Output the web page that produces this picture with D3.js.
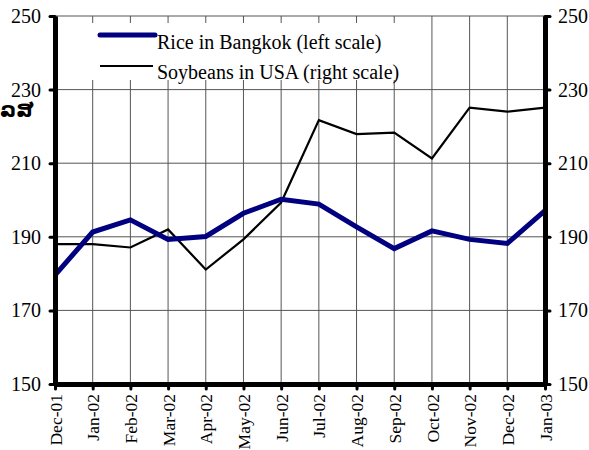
<!DOCTYPE html>
<html><head><meta charset="utf-8">
<script src="https://cdn.jsdelivr.net/npm/d3@7"></script>
<style>body{margin:0;background:#fff}svg{display:block}</style>
</head><body><svg id="c" width="589" height="450"></svg>
<script>
const months = ["Dec-01","Jan-02","Feb-02","Mar-02","Apr-02","May-02","Jun-02","Jul-02","Aug-02","Sep-02","Oct-02","Nov-02","Dec-02","Jan-03"];
const rice = [179.6,191.3,194.6,189.3,190.1,196.4,200.2,198.9,192.7,186.8,191.6,189.3,188.2,197.1];
const soybeans = [188.0,188.0,187.1,192.0,181.1,189.3,199.3,221.7,217.9,218.3,211.3,225.1,224.0,225.1];
const yTicks = [150,170,190,210,230,250];
const seriesNames = ["Rice in Bangkok (left scale)","Soybeans in USA (right scale)"];
const yLabel = "ລສ";
const SERIF = "'Liberation Serif','Times New Roman',serif";

const svg = d3.select("#c");
const L = 55, R = 545, T = 16, B = 384;
const x = d3.scalePoint().domain(months).range([L, R]);
const yL = d3.scaleLinear().domain([150,250]).range([B, T]);
const yR = d3.scaleLinear().domain([150,250]).range([B, T]);

// gridlines
const grid = svg.append("g");
grid.selectAll("line.h").data(yTicks.slice(1)).join("line")
  .attr("x1", L).attr("x2", R).attr("y1", d=>yL(d)).attr("y2", d=>yL(d))
  .attr("stroke", "#555").attr("stroke-width", 1);
grid.selectAll("line.v").data(months.slice(1, -1)).join("line")
  .attr("x1", d=>x(d)).attr("x2", d=>x(d)).attr("y1", T).attr("y2", B)
  .attr("stroke", "#555").attr("stroke-width", 1);

// legend background
svg.append("rect").attr("x", 88).attr("y", 23).attr("width", 318).attr("height", 57).attr("fill", "#fff");

// lines
const lineL = d3.line().x((d,i)=>x(months[i])).y(d=>yL(d));
const lineR = d3.line().x((d,i)=>x(months[i])).y(d=>yR(d));
svg.append("path").datum(soybeans).attr("d", lineR).attr("fill","none").attr("stroke","#000").attr("stroke-width",2.2);
svg.append("path").datum(rice).attr("d", lineL).attr("fill","none").attr("stroke","#000080").attr("stroke-width",5);

// axes
function styleAxis(g, size){
  g.attr("font-family", null).attr("font-size", null);
  g.select(".domain").attr("stroke","#000").attr("stroke-width",5);
  g.selectAll(".tick line").attr("stroke","#000").attr("stroke-width",3).attr("stroke-linecap","round");
  g.selectAll(".tick text").style("font-size",size+"px").style("font-family",SERIF).attr("fill","#000");
}
const axL = svg.append("g").attr("transform",`translate(${L},0)`)
  .call(d3.axisLeft(yL).tickValues(yTicks).tickSize(5).tickSizeOuter(0).tickPadding(9));
styleAxis(axL, 20);
const axR = svg.append("g").attr("transform",`translate(${R},0)`)
  .call(d3.axisRight(yR).tickValues(yTicks).tickSize(5).tickSizeOuter(0).tickPadding(8));
styleAxis(axR, 20);
const axB = svg.append("g").attr("transform",`translate(0,${B})`)
  .call(d3.axisBottom(x).tickSize(5).tickSizeOuter(0).tickPadding(8));
styleAxis(axB, 17.5);
axB.selectAll(".tick text").attr("transform","rotate(-90)").attr("text-anchor","end")
  .attr("x",-10).attr("y",0).attr("dy","0.35em");

// y label
svg.append("text").attr("x", 0).attr("y", 117).style("font-size","21px").attr("font-weight","bold")
  .style("font-family","'DejaVu Sans',sans-serif").text(yLabel);

// legend
const lg = svg.append("g");
lg.append("line").attr("x1",100).attr("x2",155).attr("y1",35).attr("y2",35).attr("stroke","#000080").attr("stroke-width",5).attr("stroke-linecap","round");
lg.append("line").attr("x1",100).attr("x2",153).attr("y1",66).attr("y2",66).attr("stroke","#000").attr("stroke-width",2.2);
lg.append("text").attr("x",157).attr("y",49).style("font-size","20px").style("font-family",SERIF).text(seriesNames[0]);
lg.append("text").attr("x",157).attr("y",79).style("font-size","20px").style("font-family",SERIF).text(seriesNames[1]);
</script></body></html>
